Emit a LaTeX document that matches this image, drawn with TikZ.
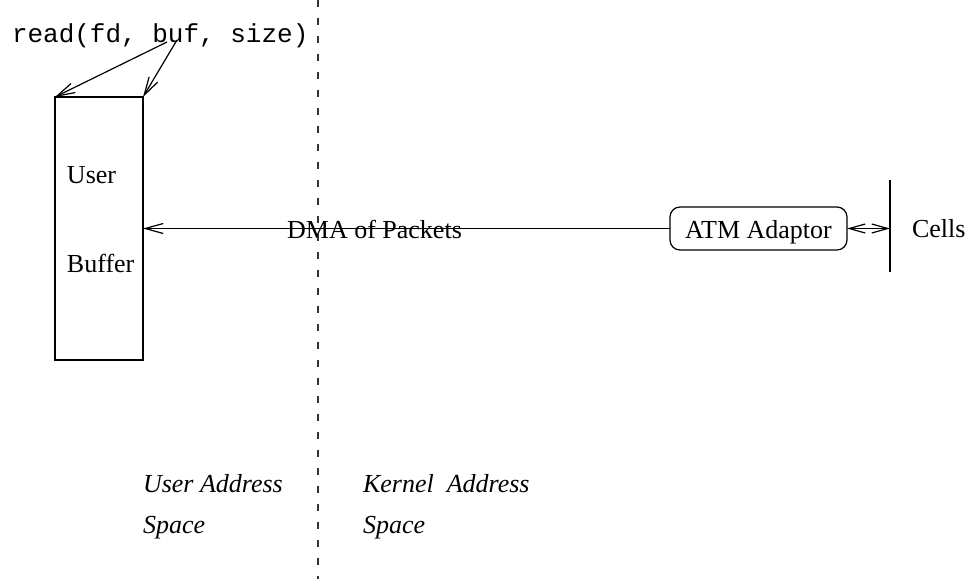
\documentclass[tikz,border=0pt]{standalone}
\usepackage{fontspec}
\setmainfont{Liberation Serif}
\setmonofont{Liberation Mono}
\usetikzlibrary{arrows.meta}
\begin{document}
\begin{tikzpicture}[x=0.5pt,y=-0.5pt,
  every node/.style={font=\fontsize{13}{15}\selectfont, inner sep=0pt, outer sep=0pt},
  lbl/.style={anchor=base west},
  ilbl/.style={anchor=base west, font=\fontsize{13}{15}\selectfont\itshape},
  conn/.style={line width=0.6pt, -{Straight Barb[length=9pt,width=5pt]}},
  dconn/.style={line width=0.6pt, {Straight Barb[length=8pt,width=4.5pt]}-{Straight Barb[length=8pt,width=4.5pt]}},
  sep/.style={line width=0.6pt, dash pattern=on 3.5pt off 5.5pt, black!80},
  bufbox/.style={draw, line width=0.7pt, minimum width=44pt, minimum height=131.5pt},
  atmbox/.style={draw, line width=0.6pt, rounded corners=5pt, minimum width=88.5pt, minimum height=21.5pt, text height=11pt, text depth=1.5pt}
]
\useasboundingbox (0,0) rectangle (971,579);
% separator
\coordinate (septop) at (318,0);
\coordinate (sepbot) at (318,579);
\draw[sep] (septop) -- (sepbot);
% read call
\node[lbl, font=\fontsize{13}{15}\selectfont\ttfamily] (read) at (12,42) {read(fd, buf, size)};
\coordinate (b1) at (167,42);
\coordinate (b2) at (177,40);
% user buffer
\node[bufbox] (buf) at (99,228.5) {};
\node[lbl] (user) at (67,183) {User};
\node[lbl] (buffer) at (67,272) {Buffer};
\draw[conn] (b1) -- (buf.north west);
\draw[conn] (b2) -- (buf.north east);
% ATM adaptor
\node[atmbox] (atm) at (758.5,228.5) {ATM Adaptor};
\draw[conn] (atm.west) -- (buf.east |- atm.west);
\node[anchor=base] (dma) at (374.5,238) {DMA of Packets};
% cells
\coordinate (ctop) at (890,180);
\coordinate (cbot) at (890,272);
\coordinate (cmid) at (890,228.5);
\draw[line width=0.6pt] (ctop) -- (cbot);
\draw[dconn] (atm.east) -- (cmid);
\node[lbl] (cells) at (912,237) {Cells};
% address space labels
\node[ilbl] (ua) at (143,492) {User Address};
\node[ilbl] (us) at (143,533) {Space};
\node[ilbl] (ka) at (363,492) {Kernel\ \ Address};
\node[ilbl] (ks) at (363,533) {Space};
\end{tikzpicture}
\end{document}
